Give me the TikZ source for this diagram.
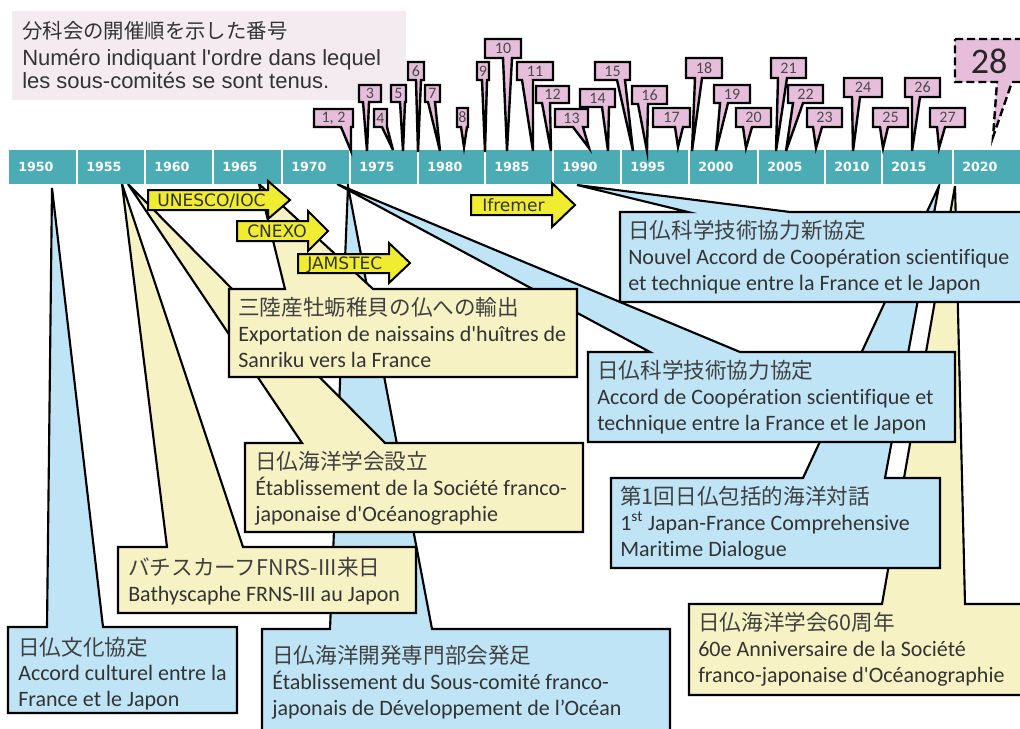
\documentclass[tikz,border=0pt]{standalone}
\usepackage{fontspec}
\newfontfamily\jp{Noto Sans CJK JP}
\newfontfamily\fr{Carlito}[Ligatures=NoCommon]
\newfontfamily\ar{Liberation Sans}
\newfontfamily\dv{DejaVu Sans}
\definecolor{barcol}{HTML}{4BACB6}
\definecolor{cbBlue}{HTML}{BEE4F6}
\definecolor{cbYel}{HTML}{F6F2C4}
\definecolor{cbPink}{HTML}{E6BEDC}
\definecolor{arrowyel}{HTML}{F0EC32}
\definecolor{legendbg}{HTML}{F3EBF0}
\definecolor{txtgray}{HTML}{333333}
\definecolor{jpgray}{HTML}{404040}
\definecolor{numgray}{HTML}{4A4A4A}
\newcommand{\numcall}[9]{%
  \draw[numbox] (#1,#2) -- (#3,#2) -- (#3,#4) -- (#6,#4) -- #7 -- (#5,#4) -- (#1,#4) -- cycle;
  \node[numtxt] (#8) at ({(#1+#3)/2},{(#2+#4)/2}) {#9};
}
\begin{document}
\begin{tikzpicture}[x=0.75pt,y=-0.75pt,
  outline/.style={draw=black, line width=1.6pt},
  bluebox/.style={outline, fill=cbBlue},
  yelbox/.style={outline, fill=cbYel},
  numbox/.style={draw=black, line width=1.8pt, fill=cbPink},
  numtxt/.style={inner sep=0pt, font=\fr\fontsize{12}{13}\selectfont, text=numgray},
  jptxt/.style={anchor=base west, inner sep=0pt, font=\jp\fontsize{16.2}{18}\selectfont, text=jpgray},
  frtxt/.style={anchor=base west, inner sep=0pt, font=\fr\fontsize{16.5}{18}\selectfont, text=txtgray},
  yearlbl/.style={anchor=west, inner sep=0pt, font=\dv\bfseries\fontsize{9.5}{10}\selectfont, text=white},
  arrowbox/.style={draw=black, line width=1.5pt, fill=arrowyel},
  arrowtxt/.style={anchor=base west, inner sep=0pt, font=\dv\fontsize{12.8}{14}\selectfont, text=txtgray},
  legjp/.style={anchor=base west, inner sep=0pt, font=\jp\fontsize{15.3}{17}\selectfont, text=txtgray},
  legfr/.style={anchor=base west, inner sep=0pt, font=\ar\fontsize{16.5}{18}\selectfont, text=txtgray}
]
\useasboundingbox (0,0) rectangle (1020,728);
\clip (0,0) rectangle (1020,728);
\fill[white] (0,0) rectangle (1020,728);

% legend
\fill[legendbg] (12,11) rectangle (406,100);
\node[legjp] (leg1) at (22,38) {分科会の開催順を示した番号};
\node[legfr] (leg2) at (22,65) {Numéro indiquant l'ordre dans lequel};
\node[legfr] (leg3) at (22,88) {les sous-comités se sont tenus.};

% ---- big callouts (back to front) ----
% Accord culturel
\draw[bluebox] (8,627) -- (47,627) -- (52,188) -- (103,627) -- (237,627) -- (237,713) -- (8,713) -- cycle;
\node[jptxt] (c1a) at (18,655) {日仏文化協定};
\node[frtxt] (c1b) at (18,680) {Accord culturel entre la};
\node[frtxt] (c1c) at (18,706) {France et le Japon};

% 60e anniversaire
\draw[yelbox] (689,604) -- (882,604) -- (955,186) -- (965,604) -- (1026,604) -- (1026,695) -- (689,695) -- cycle;
\node[jptxt] (c2a) at (698,630) {日仏海洋学会60周年};
\node[frtxt] (c2b) at (698,656) {60e Anniversaire de la Société};
\node[frtxt] (c2c) at (698,682) {franco-japonaise d'Océanographie};

% Maritime dialogue
\draw[bluebox] (611,478) -- (803,478) -- (939,186) -- (885,478) -- (940,478) -- (940,568) -- (611,568) -- cycle;
\node[jptxt] (c3a) at (620,504) {第1回日仏包括的海洋対話};
\node[frtxt] (c3b) at (620,530) {1\textsuperscript{st} Japan-France Comprehensive};
\node[frtxt] (c3c) at (620,556) {Maritime Dialogue};

% Sous-comite
\draw[bluebox] (262,629) -- (330,629) -- (348,186) -- (432,629) -- (670,629) -- (670,740) -- (262,740) -- cycle;
\node[jptxt] (c4a) at (272,663) {日仏海洋開発専門部会発足};
\node[frtxt] (c4b) at (272,689) {Établissement du Sous-comité franco-};
\node[frtxt] (c4c) at (272,715) {japonais de Développement de l’Océan};

% Accord de cooperation
\draw[bluebox] (588,352) -- (650,352) -- (337,184) -- (740,352) -- (955,352) -- (955,442) -- (588,442) -- cycle;
\node[jptxt] (c5a) at (597,378) {日仏科学技術協力協定};
\node[frtxt] (c5b) at (597,404) {Accord de Coopération scientifique et};
\node[frtxt] (c5c) at (597,430) {technique entre la France et le Japon};

% Nouvel accord
\draw[bluebox] (620,212) -- (688,212) -- (577,185) -- (790,212) -- (1026,212) -- (1026,302) -- (620,302) -- cycle;
\node[jptxt] (c6a) at (628,238) {日仏科学技術協力新協定};
\node[frtxt] (c6b) at (628,264) {Nouvel Accord de Coopération scientifique};
\node[frtxt] (c6c) at (628,290) {et technique entre la France et le Japon};

% Bathyscaphe
\draw[yelbox] (118,547) -- (167,547) -- (122,184) -- (243,547) -- (416,547) -- (416,613) -- (118,613) -- cycle;
\node[jptxt] (c7a) at (128,575) {バチスカーフFNRS-III来日};
\node[frtxt] (c7b) at (128,601) {Bathyscaphe FRNS-III au Japon};

% Societe franco-japonaise
\draw[yelbox] (245,443) -- (302,443) -- (128,184) -- (385,443) -- (583,443) -- (583,532) -- (245,532) -- cycle;
\node[jptxt] (c8a) at (255,469) {日仏海洋学会設立};
\node[frtxt] (c8b) at (255,495) {Établissement de la Société franco-};
\node[frtxt] (c8c) at (255,521) {japonaise d'Océanographie};

% Sanriku
\draw[yelbox] (229,289) -- (285,289) -- (259,184) -- (373,289) -- (577,289) -- (577,377) -- (229,377) -- cycle;
\node[jptxt] (c9a) at (238,315) {三陸産牡蛎稚貝の仏への輸出};
\node[frtxt] (c9b) at (238,341) {Exportation de naissains d'huîtres de};
\node[frtxt] (c9c) at (238,367) {Sanriku vers la France};

% ---- timeline bar ----
\fill[barcol] (9,150) rectangle (1026,184);
\foreach \bx in {77,145,213,282,350,418,485,553,621,689,758,825,882,953}
  \draw[white, line width=0.8pt] (\bx,150) -- (\bx,184);
\foreach \bx/\yr in {9/1950,77/1955,145/1960,213/1965,282/1970,350/1975,418/1980,485/1985,553/1990,621/1995,689/2000,758/2005,825/2010,882/2015,953/2020}
  \node[yearlbl] (y\yr) at (\bx+9,167) {\yr};

% ---- arrows ----
\draw[arrowbox] (148,190) -- (268,190) -- (268,181) -- (290,200) -- (268,219) -- (268,210) -- (148,210) -- cycle;
\node[arrowtxt] (aunesco) at (157,206) {UNESCO/IOC};
\draw[arrowbox] (237,221) -- (308,221) -- (308,211) -- (328,231) -- (308,251) -- (308,241) -- (237,241) -- cycle;
\node[arrowtxt] (acnexo) at (247,237) {CNEXO};
\draw[arrowbox] (298,254) -- (389,254) -- (389,243) -- (410,263) -- (389,283) -- (389,273) -- (298,273) -- cycle;
\node[arrowtxt] (ajamstec) at (307,269) {JAMSTEC};
\draw[arrowbox] (471,195) -- (552,195) -- (552,183) -- (575,205) -- (552,227) -- (552,215) -- (471,215) -- cycle;
\node[arrowtxt] (aifremer) at (482,211) {Ifremer};

% ---- numbered callouts ----
\numcall{314}{109}{353}{127}{341}{351}{(351,151)}{n1}{1, 2}
\numcall{359}{85}{381}{102}{363}{369}{(367,151)}{n3}{3}
\numcall{374}{109}{387}{127}{382}{387}{(393,150)}{n4}{4}
\numcall{391}{85}{406}{102}{400}{405}{(403,151)}{n5}{5}
\numcall{408}{62}{424}{80}{416}{421}{(418,152)}{n6}{6}
\numcall{425}{85}{440}{102}{428}{435}{(440,151)}{n7}{7}
\numcall{457}{108}{468}{127}{461}{467}{(464,147)}{n8}{8}
\numcall{477}{62}{489}{80}{482}{487}{(485,152)}{n9}{9}
\numcall{485}{39}{521}{58}{503}{512}{(507,151)}{n10}{10}
\numcall{517}{62}{553}{80}{522}{533}{(533,151)}{n11}{11}
\numcall{536}{86}{569}{103}{542}{550}{(551,151)}{n12}{12}
\numcall{555}{109}{588}{127}{573}{583}{(589,148)}{n13}{13}
\numcall{580}{89}{615}{107}{602}{609}{(608,151)}{n14}{14}
\numcall{595}{62}{630}{80}{617}{625}{(633,151)}{n15}{15}
\numcall{632}{86}{667}{104}{638}{648}{(647,151)}{n16}{16}
\numcall{653}{108}{690}{127}{675}{683}{(678,147)}{n17}{17}
\numcall{686}{58}{722}{78}{695}{702}{(692,151)}{n18}{18}
\numcall{714}{85}{750}{103}{720}{728}{(716,151)}{n19}{19}
\numcall{736}{108}{771}{127}{743}{752}{(746,148)}{n20}{20}
\numcall{771}{58}{806}{78}{778}{787}{(776,151)}{n21}{21}
\numcall{788}{85}{823}{103}{793}{803}{(786,151)}{n22}{22}
\numcall{807}{108}{842}{127}{813}{822}{(816,148)}{n23}{23}
\numcall{844}{78}{882}{97}{852}{860}{(853,151)}{n24}{24}
\numcall{873}{108}{908}{127}{880}{888}{(883,148)}{n25}{25}
\numcall{905}{78}{940}{97}{912}{920}{(912,151)}{n26}{26}
\numcall{930}{108}{965}{127}{937}{945}{(939,148)}{n27}{27}

% 28 (dashed)
\draw[draw=black, line width=1.8pt, fill=cbPink, dash pattern=on 6pt off 3pt]
  (955,39) -- (1026,39) -- (1026,82) -- (1012,82) -- (993,137) -- (997,82) -- (955,82) -- cycle;
\node[inner sep=0pt, font=\fr\fontsize{27}{30}\selectfont, text=black!85] (n28) at (989,61) {28};
\end{tikzpicture}
\end{document}
